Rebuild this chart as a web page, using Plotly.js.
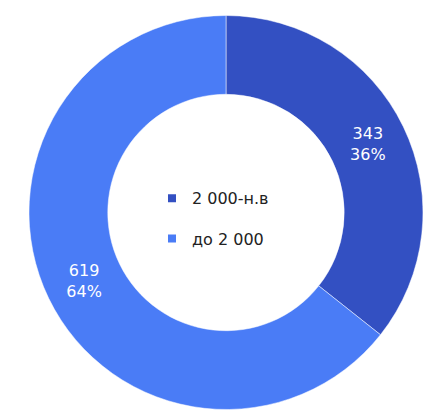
<!DOCTYPE html>
<html>
<head>
<meta charset="utf-8">
<script src="https://cdn.plot.ly/plotly-3.0.1.min.js"></script>
<style>html,body{margin:0;padding:0;background:#fff}#chart{width:447px;height:420px}</style>
</head>
<body>
<div id="chart"></div>
<script>
const categories = ["2 000-н.в", "до 2 000"];
const values = [343, 619];
const colors = ["#3350C2", "#4A7CF6"];

const pie = {
  type: "pie",
  labels: categories,
  values: values,
  hole: 0.6,
  sort: false,
  direction: "clockwise",
  rotation: 0,
  marker: {colors: colors, line: {color: "#ffffff", width: 0.5}},
  texttemplate: "%{value}<br>%{percent:.0%}",
  textposition: "inside",
  insidetextorientation: "horizontal",
  textfont: {family: "DejaVu Sans", size: 16, color: "#ffffff"},
  hoverinfo: "none",
  showlegend: false
};
// legend entries, one per category (no visible marks on the plot)
const legendTraces = categories.map((c, i) => ({
  type: "scatter", mode: "markers", x: [null], y: [null],
  name: c, legendgroup: "g" + i,
  marker: {symbol: "square", size: 8, color: colors[i]},
  hoverinfo: "none"
}));

Plotly.newPlot("chart", [pie].concat(legendTraces), {
  width: 447, height: 420,
  margin: {l: 29, r: 24, t: 15, b: 10},
  paper_bgcolor: "#ffffff",
  plot_bgcolor: "rgba(0,0,0,0)",
  xaxis: {visible: false}, yaxis: {visible: false},
  showlegend: true,
  legend: {x: 0.467, y: 0.484, xanchor: "center", yanchor: "middle",
    traceorder: "grouped", tracegroupgap: 16.5, itemwidth: 30,
    font: {family: "DejaVu Sans", size: 16, color: "#222222"},
    bgcolor: "rgba(0,0,0,0)"}
}, {displayModeBar: false});
</script>
</body>
</html>
